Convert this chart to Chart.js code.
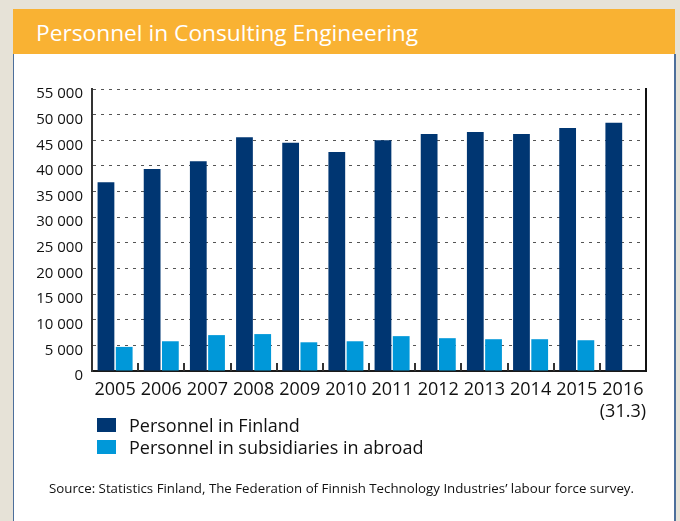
<!DOCTYPE html>
<html>
<head>
<meta charset="utf-8">
<script src="https://cdn.jsdelivr.net/npm/chart.js@4/dist/chart.umd.min.js"></script>
<style>
  html, body { margin: 0; padding: 0; }
  body { width: 680px; height: 521px; background: #e6e2d7; position: relative; overflow: hidden;
         font-family: "Open Sans", sans-serif; }
  #panel { position: absolute; left: 13px; top: 54px; width: 660px; height: 467px; background: #fff;
           border-left: 1px solid #4d6f9b; border-right: 2px solid #4d6f9b; }
  #header { position: absolute; left: 13px; top: 9px; width: 662px; height: 45px; background: #f9b233; }
  #title { position: absolute; left: 36px; top: 17px; color: #fff; font-size: 22px; line-height: 30px;
           white-space: nowrap; transform-origin: 0 0; }
  #chart { position: absolute; left: 0; top: 0; }
  #legend { position: absolute; left: 97px; top: 414px; }
  .item { height: 22px; display: flex; align-items: center; font-size: 18px; color: #111; }
  .box { width: 19px; height: 14px; margin-right: 13px; }
  #source { position: absolute; left: 49px; top: 480px; font-size: 12.5px; color: #111; white-space: nowrap;
            transform-origin: 0 0; }
</style>
</head>
<body>
<div id="panel"></div>
<div id="header"></div>
<div id="title">Personnel in Consulting Engineering</div>
<canvas id="chart" width="680" height="521"></canvas>
<div id="legend"></div>
<div id="source">Source: Statistics Finland, The Federation of Finnish Technology Industries’ labour force survey.</div>
<script>
const years = ["2005", "2006", "2007", "2008", "2009", "2010", "2011", "2012", "2013", "2014", "2015", ["2016", "(31.3)"]];
const finland = [36800, 39400, 40900, 45600, 44500, 42700, 45000, 46200, 46600, 46200, 47400, 48400];
const abroad = [4700, 5800, 7000, 7200, 5600, 5800, 6800, 6400, 6200, 6200, 6000, null];
const yTicks = [0, 5000, 10000, 15000, 20000, 25000, 30000, 35000, 40000, 45000, 50000, 55000];

Chart.defaults.font.family = "'Open Sans', sans-serif";
Chart.defaults.color = "#111";

// small tick marks pointing up from the x axis between year groups
const groupTicks = {
  id: "groupTicks",
  afterDatasetsDraw(chart) {
    const x = chart.scales.x;
    const ctx = chart.ctx;
    const bottom = chart.chartArea.bottom;
    ctx.save();
    ctx.strokeStyle = "#333";
    ctx.lineWidth = 2;
    for (let i = 0; i < years.length - 1; i++) {
      const px = Math.round((x.getPixelForValue(i) + x.getPixelForValue(i + 1)) / 2);
      ctx.beginPath();
      ctx.moveTo(px, bottom - 8);
      ctx.lineTo(px, bottom);
      ctx.stroke();
    }
    ctx.restore();
  }
};

const chart = new Chart(document.getElementById("chart"), {
  type: "bar",
  data: {
    labels: years,
    datasets: [
      { label: "Personnel in Finland", data: finland, backgroundColor: "#003672" },
      { label: "Personnel in subsidiaries in abroad", data: abroad, backgroundColor: "#0098d9" }
    ]
  },
  options: {
    responsive: false,
    animation: false,
    layout: { padding: { left: 0, top: 89, right: 34, bottom: 100 } },
    datasets: { bar: { categoryPercentage: 0.79, barPercentage: 0.92 } },
    plugins: { legend: { display: false }, tooltip: { enabled: false } },
    scales: {
      x: {
        grid: { display: false, drawTicks: false },
        border: { display: true, color: "#1a1a1a", width: 2 },
        ticks: { font: { size: 18, lineHeight: 1.2 }, padding: 8, maxRotation: 0, autoSkip: false },
        afterFit(scale) { scale.height = 50; }
      },
      y: {
        min: 0,
        max: 55000,
        afterBuildTicks(scale) { scale.ticks = yTicks.map(v => ({ value: v })); },
        grid: {
          drawTicks: false,
          color: ctx => ctx.tick && ctx.tick.value === 0 ? "rgba(0,0,0,0)" : "#555",
          lineWidth: 1
        },
        border: { display: true, color: "#333", width: 2, dash: [3, 5] },
        ticks: {
          font: { size: 15 },
          padding: 9,
          labelOffset: 5,
          callback: v => String(v).replace(/\B(?=(\d{3})+(?!\d))/g, " ")
        },
        afterFit(scale) { scale.width = 92; }
      },
      y2: {
        position: "right",
        grid: { display: false, drawTicks: false },
        ticks: { display: false },
        border: { display: true, color: "#111", width: 2 },
        afterFit(scale) { scale.width = 0; }
      }
    }
  },
  plugins: [groupTicks]
});

const legend = document.getElementById("legend");
chart.data.datasets.forEach(ds => {
  const item = document.createElement("div");
  item.className = "item";
  const box = document.createElement("span");
  box.className = "box";
  box.style.background = ds.backgroundColor;
  item.appendChild(box);
  item.appendChild(document.createTextNode(ds.label));
  legend.appendChild(item);
});

// fit header and source text to their widths in the reference
const fit = (id, w) => {
  const el = document.getElementById(id);
  const r = w / el.getBoundingClientRect().width;
  el.style.transform = "scaleX(" + r + ")";
};
fit("title", 382);
fit("source", 585);
</script>
</body>
</html>
